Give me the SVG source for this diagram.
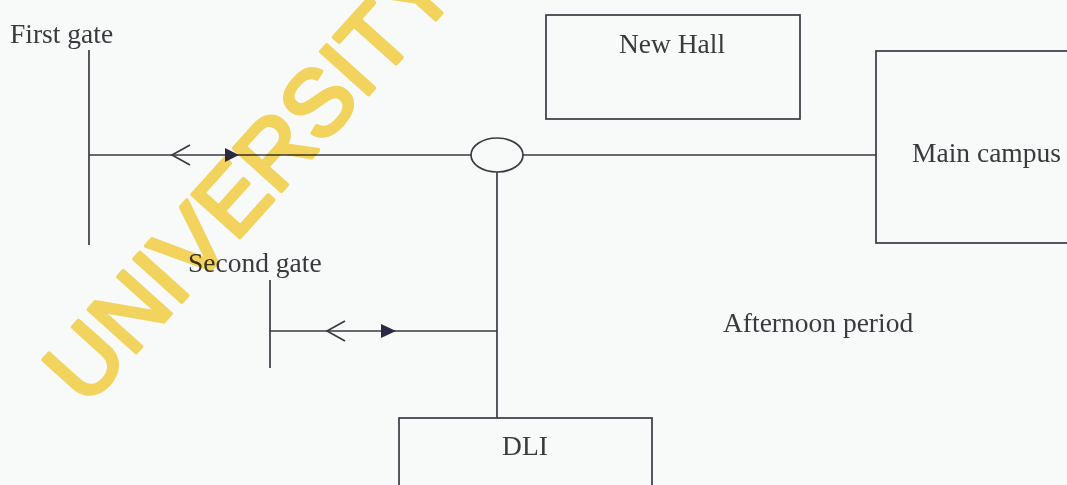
<svg xmlns="http://www.w3.org/2000/svg" width="1067" height="485" viewBox="0 0 1067 485">
<style>
.ln{stroke:#3a3a42;stroke-width:1.7;fill:none}
.bx{stroke:#3a3a42;stroke-width:1.7;fill:none}
.hd{fill:#2a2a44}
.t{font-family:"Liberation Serif",serif;font-size:27.5px;fill:#3a3a3e}
.wm{font-family:"Liberation Sans",sans-serif;font-size:93px;fill:#f8d860;stroke:#f8d860;stroke-width:4;stroke-linejoin:round;mix-blend-mode:multiply}
</style>
<rect width="1067" height="485" fill="#f8fafa"/>
<g id="connectors">
<line class="ln" x1="89" y1="50" x2="89" y2="245"/>
<line class="ln" x1="89" y1="155" x2="471" y2="155"/>
<line class="ln" x1="523" y1="155" x2="876" y2="155"/>
<line class="ln" x1="497" y1="172" x2="497" y2="418"/>
<line class="ln" x1="270" y1="280" x2="270" y2="368"/>
<line class="ln" x1="270" y1="331" x2="497" y2="331"/>
<path class="ln" d="M190,145 L172,155 L190,165"/>
<path class="hd" d="M225,148 L239,155 L225,162 Z"/>
<path class="ln" d="M345,321 L327,331 L345,341"/>
<path class="hd" d="M381,324 L396,331 L381,338 Z"/>
</g>
<g id="first-gate"><text class="t" x="10" y="43">First gate</text></g>
<g id="second-gate"><text class="t" x="188" y="272">Second gate</text></g>
<g id="junction"><ellipse class="ln" cx="497" cy="155" rx="26" ry="17"/></g>
<g id="new-hall"><rect class="bx" x="546" y="15" width="254" height="104"/><text class="t" x="672" y="53" text-anchor="middle">New Hall</text></g>
<g id="main-campus"><rect class="bx" x="876" y="51" width="200" height="192"/><text class="t" x="912" y="162">Main campus</text></g>
<g id="dli"><rect class="bx" x="399" y="418" width="253" height="80"/><text class="t" x="525" y="455" text-anchor="middle">DLI</text></g>
<g id="afternoon"><text class="t" x="723" y="332">Afternoon period</text></g>
<text class="wm" transform="translate(86,408) rotate(-48)">UNIVERSITY</text>
</svg>
